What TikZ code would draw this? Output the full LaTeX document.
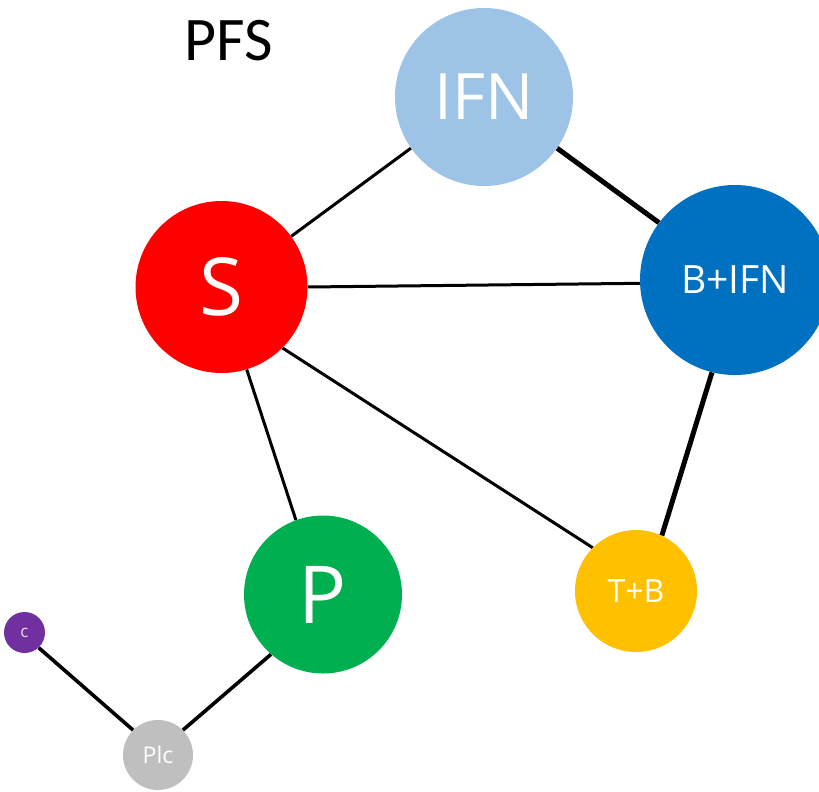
\documentclass[tikz,border=0pt]{standalone}
\usepackage{fontspec}
\setmainfont{Open Sans}
\newfontfamily\titlefont{Carlito}
\usetikzlibrary{backgrounds}
\definecolor{cifn}{HTML}{9DC3E6}
\definecolor{cs}{HTML}{FF0000}
\definecolor{cbifn}{HTML}{0070C0}
\definecolor{cp}{HTML}{00B050}
\definecolor{ctb}{HTML}{FFC000}
\definecolor{cc}{HTML}{7030A0}
\definecolor{cplc}{HTML}{BFBFBF}
\definecolor{clabel}{HTML}{E6D8F2}
\tikzset{
  bubble/.style={circle, inner sep=0pt, draw=none, text=white},
  thinedge/.style={draw=black, line width=3pt},
  thickedge/.style={draw=black, line width=5pt},
  midedge/.style={draw=black, line width=3.6pt}
}
\begin{document}
\begin{tikzpicture}[x=1pt,y=-1pt]
\useasboundingbox (0,0) rectangle (819,792);
\node[anchor=base, font=\titlefont\fontsize{62}{62}\selectfont] (title) at (229,60) {PFS};
\node[bubble, fill=cifn, minimum size=178pt, font=\fontsize{64}{64}\selectfont] (ifn) at (484,97) {IFN};
\node[bubble, fill=cs, minimum size=172pt, font=\fontsize{80}{80}\selectfont] (s) at (221.5,287) {S};
\node[bubble, fill=cbifn, minimum size=190pt, font=\fontsize{39}{39}\selectfont] (bifn) at (735,280) {B+IFN};
\node[bubble, fill=cp, minimum size=158pt, font=\fontsize{80}{80}\selectfont] (p) at (323,594.5) {P};
\node[bubble, fill=ctb, minimum size=122pt, font=\fontsize{32}{32}\selectfont] (tb) at (636,591) {T+B};
\node[bubble, fill=cc, text=clabel, minimum size=41pt, font=\fontsize{17}{17}\selectfont] (c) at (24.5,632.5) {c};
\node[bubble, fill=cplc, minimum size=70pt, font=\fontsize{23}{23}\selectfont] (plc) at (158,755) {Plc};
\begin{pgfonlayer}{background}
\fill[white] (0,0) rectangle (819,792);
\draw[thinedge] (s.36) -- (ifn.215);
\draw[thickedge] (ifn.-35) -- (bifn.143);
\draw[thinedge] (s.0) -- (bifn.182);
\draw[thinedge] (s.-73) -- (p.110);
\draw[thinedge] (s.-45) -- (tb.135);
\draw[thickedge] (bifn.-104) -- (tb.65);
\draw[midedge] (p.-131) -- (plc.45);
\draw[midedge] (c.-47) -- (plc.135);
\end{pgfonlayer}
\end{tikzpicture}
\end{document}
